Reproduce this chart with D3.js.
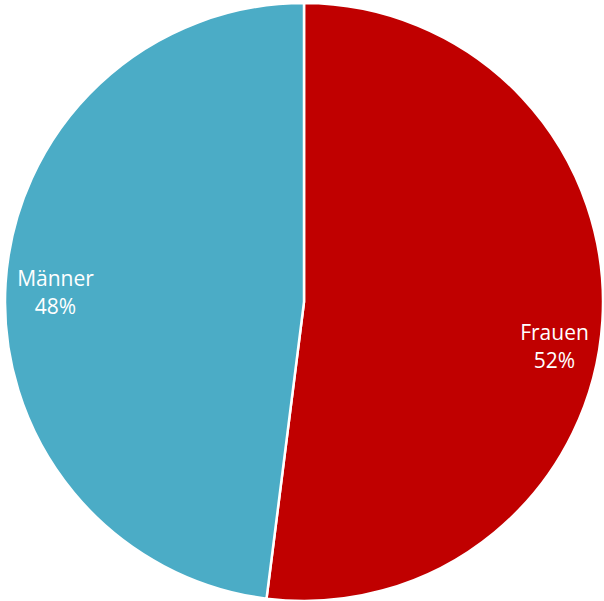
<!DOCTYPE html>
<html>
<head>
<meta charset="utf-8">
<script src="https://cdn.jsdelivr.net/npm/d3@7"></script>
<style>
  body { margin: 0; background: #fff; }
</style>
</head>
<body>
<svg width="604" height="601"></svg>
<script>
const categories = ["Frauen", "Männer"];
const values = [52, 48];
const colors = ["#C00000", "#4BACC6"];
const labelShift = [22, 0]; // vertical nudge, as Excel places them

const data = categories.map((c, i) => ({ name: c, value: values[i], color: colors[i], shift: labelShift[i] }));

const svg = d3.select("svg");
const cx = 304, cy = 302, radius = 299;

const g = svg.append("g").attr("transform", `translate(${cx},${cy})`);

const pie = d3.pie().value(d => d.value).sort(null);
const arc = d3.arc().innerRadius(0).outerRadius(radius);
const labelArc = d3.arc().innerRadius(250).outerRadius(250);

g.selectAll("path")
  .data(pie(data))
  .enter().append("path")
  .attr("d", arc)
  .attr("fill", d => d.data.color)
  .attr("stroke", "#fff")
  .attr("stroke-width", 2.5);

const labels = g.selectAll(".label")
  .data(pie(data))
  .enter().append("text")
  .attr("class", "label")
  .attr("transform", d => {
    const [x, y] = labelArc.centroid(d);
    return `translate(${x + 1},${y + d.data.shift})`;
  })
  .attr("text-anchor", "middle")
  .style("font-family", "'Open Sans', 'Noto Sans', sans-serif")
  .style("font-size", "21px")
  .style("fill", "#fff");

labels.append("tspan")
  .attr("x", 0)
  .attr("y", 0)
  .text(d => d.data.name);

labels.append("tspan")
  .attr("x", 0)
  .attr("y", 28)
  .text(d => d.data.value + "%");
</script>
</body>
</html>
